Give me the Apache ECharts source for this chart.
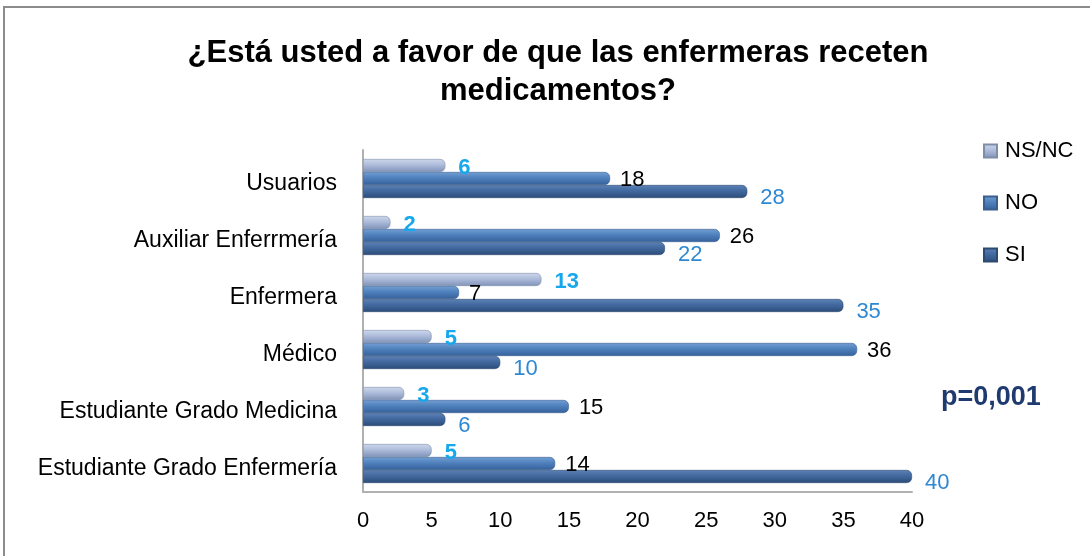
<!DOCTYPE html>
<html>
<head>
<meta charset="utf-8">
<script src="https://cdn.jsdelivr.net/npm/echarts@6/dist/echarts.min.js"></script>
<style>
	html, body { margin: 0; padding: 0; background: #fff; }
	#chart { width: 1090px; height: 556px; }
</style>
</head>
<body>
<div id="chart"></div>
<script>
// categories bottom -> top (ECharts draws the first category at the bottom)
var categories = ["Estudiante Grado Enfermería", "Estudiante Grado Medicina", "Médico", "Enfermera", "Auxiliar Enferrmería", "Usuarios"];
var nsnc = [5, 3, 5, 13, 2, 6];
var no = [14, 15, 36, 7, 26, 18];
var si = [40, 6, 10, 35, 22, 28];
var xTicks = [0, 5, 10, 15, 20, 25, 30, 35, 40];

var font = "Liberation Sans";

function cyl(top, mid, bottom) {
	return new echarts.graphic.LinearGradient(0, 0, 0, 1, [
		{ offset: 0, color: top },
		{ offset: 0.45, color: mid },
		{ offset: 1, color: bottom }
	]);
}

var chart = echarts.init(document.getElementById("chart"));

var option = {
	animation: false,
	textStyle: { fontFamily: font },
	title: {
		text: "¿Está usted a favor de que las enfermeras receten\nmedicamentos?",
		left: 553,
		textAlign: "center",
		top: 29,
		textStyle: { fontFamily: font, fontWeight: "bold", fontSize: 31, lineHeight: 38, color: "#000" }
	},
	legend: {
		orient: "vertical",
		left: 978,
		top: 135,
		itemGap: 30,
		itemWidth: 13,
		itemHeight: 13,
		icon: "rect",
		data: ["NS/NC", "NO", "SI"],
		textStyle: { fontFamily: font, fontSize: 22, color: "#000", padding: [0, 0, 0, 3] }
	},
	grid: { left: 363, right: 178, top: 150, bottom: 64, containLabel: false },
	xAxis: {
		type: "value",
		min: 0,
		max: 40,
		interval: 5,
		axisLine: { show: true, lineStyle: { color: "#b0b0b0", width: 2 } },
		axisTick: { show: false },
		splitLine: { show: false },
		axisLabel: {
			fontSize: 22, color: "#000", margin: 18,
			formatter: function (v) { return xTicks.indexOf(v) >= 0 ? String(v) : ""; }
		}
	},
	yAxis: {
		type: "category",
		data: categories,
		axisLine: { show: true, lineStyle: { color: "#b0b0b0", width: 2 } },
		axisTick: { show: false },
		axisLabel: { fontSize: 23, color: "#000", margin: 26, verticalAlign: "top", lineHeight: 10 }
	},
	series: [
		{
			name: "NS/NC",
			type: "bar",
			data: nsnc,
			barWidth: 13,
			barGap: "0%",
			barCategoryGap: "32%",
			itemStyle: { color: cyl("#cdd8ec", "#aebcdb", "#7f92b8"), borderColor: "#7f8ea8", borderWidth: 0.6, borderRadius: [0, 5, 5, 0] },
			label: { show: true, position: "right", distance: 13, offset: [0, 2], fontSize: 22, fontWeight: "bold", color: "#17a7ec" }
		},
		{
			name: "NO",
			type: "bar",
			data: no,
			barWidth: 13,
			barGap: "0%",
			itemStyle: { color: cyl("#739fd3", "#4f81bd", "#35609a"), borderColor: "#3a5f8e", borderWidth: 0.6, borderRadius: [0, 5, 5, 0] },
			label: { show: true, position: "right", distance: 10, offset: [0, 1], fontSize: 22, color: "#000" }
		},
		{
			name: "SI",
			type: "bar",
			data: si,
			barWidth: 13,
			barGap: "0%",
			itemStyle: { color: cyl("#5c82b6", "#42699f", "#2b4c78"), borderColor: "#2d4a70", borderWidth: 0.6, borderRadius: [0, 5, 5, 0] },
			label: { show: true, position: "right", distance: 13, offset: [0, 6], fontSize: 22, color: "#2e88d2" }
		}
	],
	color: ["#aebcdb", "#4f81bd", "#42699f"],
	graphic: [
		{
			type: "rect",
			shape: { x: 4, y: 7, width: 1100, height: 560 },
			style: { fill: "none", stroke: "#8c8c8c", lineWidth: 2 },
			silent: true
		},
		{
			type: "text",
			left: 941,
			top: 384,
			style: { text: "p=0,001", fontFamily: font, fontSize: 27, fontWeight: "bold", fill: "#1f3a6e" }
		}
	]
};

chart.setOption(option);
</script>
</body>
</html>
